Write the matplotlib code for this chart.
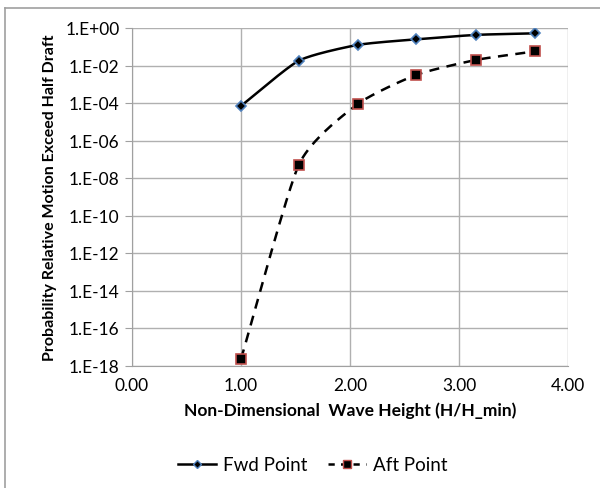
import numpy as np
import matplotlib.pyplot as plt
from matplotlib.lines import Line2D

plt.rcParams['font.family'] = ['Lato', 'DejaVu Sans']

# wave height ratio and exceedance probabilities
h_ratio = [1.00, 1.53, 2.07, 2.61, 3.16, 3.70]
fwd_prob = [7e-5, 1.8e-2, 1.25e-1, 2.5e-1, 4.3e-1, 5.2e-1]
aft_prob = [2.2e-18, 5e-8, 8.7e-5, 3.2e-3, 2.0e-2, 5.7e-2]
ytick_vals = [10.0**-k for k in range(18, -1, -2)]
ytick_labels = ['1.E-%02d' % k if k else '1.E+00' for k in range(18, -1, -2)]
xtick_vals = [0, 1, 2, 3, 4]
xtick_labels = ['0.00', '1.00', '2.00', '3.00', '4.00']


def smooth(x, y, n=40, tension=0.6, xs=109.0, ys=18.75):
    # cardinal spline through the points, worked out in screen-like units
    P = np.column_stack([np.array(x, float)*xs, np.log10(np.array(y, float))*ys])
    P = np.vstack([2*P[0]-P[1], P, 2*P[-1]-P[-2]])
    t = np.linspace(0, 1, n)[:, None]
    h00 = 2*t**3 - 3*t**2 + 1
    h10 = t**3 - 2*t**2 + t
    h01 = -2*t**3 + 3*t**2
    h11 = t**3 - t**2
    out = []
    for i in range(1, len(P)-2):
        m1 = tension*(P[i+1]-P[i-1])/2
        m2 = tension*(P[i+2]-P[i])/2
        out.append(h00*P[i] + h10*m1 + h01*P[i+1] + h11*m2)
    out = np.vstack(out)
    return out[:, 0]/xs, 10**(out[:, 1]/ys)


fig = plt.figure(figsize=(6, 4.89), dpi=100)
ax = fig.add_axes([132/600, 1-366.5/489, (568-132)/600, (366.5-29)/489])

ax.set_yscale('log')
ax.set_xlim(0, 4)
ax.set_ylim(1e-18, 1)

sx, sy = smooth(h_ratio, fwd_prob)
ax.plot(sx, sy, color='black', lw=1.8, zorder=3)
ax.plot(h_ratio, fwd_prob, ls='none', marker='D', ms=5, mfc='black', mec='#4F81BD', mew=1.2, zorder=4)
sx, sy = smooth(h_ratio, aft_prob)
ax.plot(sx, sy, color='black', lw=1.8, ls=(0, (4, 3)), zorder=3)
ax.plot(h_ratio, aft_prob, ls='none', marker='s', ms=7, mfc='black', mec='#C0504D', mew=1.2, zorder=4)

ax.set_yticks(ytick_vals)
ax.set_yticklabels(ytick_labels)
ax.yaxis.set_minor_locator(plt.NullLocator())
ax.set_xticks(xtick_vals)
ax.set_xticklabels(xtick_labels)
ax.grid(True, color='#b0b0b0', lw=1)
ax.tick_params(axis='y', length=5, color='#a0a0a0', labelsize=12.5, pad=4)
ax.tick_params(axis='x', length=0, labelsize=12.5, pad=8)
for s in ['top', 'right']:
    ax.spines[s].set_visible(False)
for s in ['left', 'bottom']:
    ax.spines[s].set_color('#a0a0a0')

ax.set_xlabel('Non-Dimensional  Wave Height (H/H_min)', fontsize=12.5, fontweight='bold', labelpad=6)
ax.set_ylabel('Probability Relative Motion Exceed Half Draft', fontsize=11.5, fontweight='bold', labelpad=6)

handles = [Line2D([], [], color='black', lw=1.8, marker='D', ms=4, mfc='black', mec='#4F81BD'),
           Line2D([], [], color='black', lw=1.8, ls=(0, (2.5, 2.5)), marker='s', ms=6, mfc='black', mec='#C0504D')]
fig.legend(handles, ['Fwd Point', 'Aft Point'], loc='center', bbox_to_anchor=(0.522, 1-466/489),
           ncol=2, frameon=False, fontsize=13.5, handlelength=2.0, handletextpad=0.4, columnspacing=1.1)

# chart area border
fig.add_artist(Line2D([5/600, 5/600], [0, 1-8.5/489], color='#a0a0a0', lw=1.2))
fig.add_artist(Line2D([5/600, 1], [1-8.5/489, 1-8.5/489], color='#a0a0a0', lw=1.2))

fig.savefig('out.png')
